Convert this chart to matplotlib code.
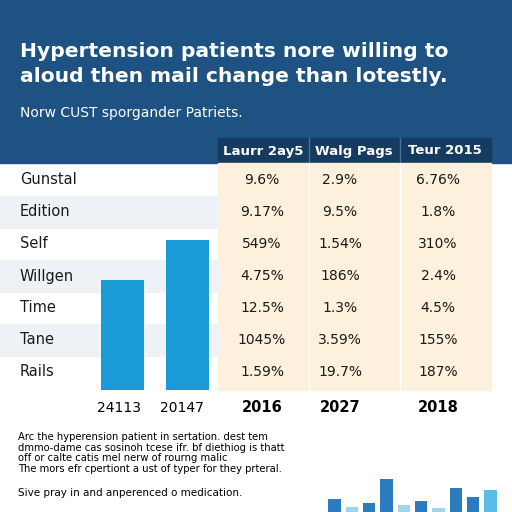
import matplotlib
matplotlib.use("Agg")
import matplotlib.pyplot as plt
from matplotlib.patches import Rectangle

title = "Hypertension patients nore willing to\naloud then mail change than lotestly."
subtitle = "Norw CUST sporgander Patriets."
col_heads = ["Laurr 2ay5", "Walg Pags", "Teur 2015"]
row_labels = ["Gunstal", "Edition", "Self", "Willgen", "Time", "Tane", "Rails"]
cells = [
    ["9.6%", "2.9%", "6.76%"],
    ["9.17%", "9.5%", "1.8%"],
    ["549%", "1.54%", "310%"],
    ["4.75%", "186%", "2.4%"],
    ["12.5%", "1.3%", "4.5%"],
    ["1045%", "3.59%", "155%"],
    ["1.59%", "19.7%", "187%"],
]
bar_labels = ["24113", "20147"]
bar_values = [110, 150]
year_labels = ["2016", "2027", "2018"]
note = ("Arc the hyperension patient in sertation. dest tem\n"
        "dmmo-dame cas sosinoh tcese ifr. bf diethiog is thatt\n"
        "off or calte catis mel nerw of rourng malic\n"
        "The mors efr cpertiont a ust of typer for they prteral.")
note2 = "Sive pray in and anperenced o medication."
mini_values = [12, 5, 8, 30, 6, 10, 4, 22, 14, 20]
mini_colors = ["#2b7bbf", "#9fd3ee", "#2b7bbf", "#2b7bbf", "#9fd3ee",
               "#2b7bbf", "#9fd3ee", "#2b7bbf", "#2b7bbf", "#5bbde8"]

NAVY = "#1d5282"
DARK = "#163b60"
fig = plt.figure(figsize=(5.12, 5.12), dpi=100)
ax = fig.add_axes([0, 0, 1, 1])
ax.set_xlim(0, 512)
ax.set_ylim(512, 0)
ax.axis("off")

# header band
ax.add_patch(Rectangle((0, 0), 512, 163, color=NAVY))
ax.text(20, 64, title, color="white", fontsize=14.6, va="center", ha="left",
        fontweight="bold", linespacing=1.35)
ax.text(20, 113, subtitle, color="white", fontsize=10, va="center")

# table
ax.add_patch(Rectangle((218, 138), 273, 25, color=DARK))
head_x = [263, 354, 445]
col_x = [262, 340, 438]
for x, h in zip(head_x, col_heads):
    ax.text(x, 151, h, color="white", fontsize=9.5, ha="center", va="center",
            fontweight="bold")
for x in [309, 400]:
    ax.plot([x, x], [138, 163], color="#4a6f95", lw=1)
ax.add_patch(Rectangle((218, 163), 273, 227, color="#fdf1dd"))
for i, (lab, row) in enumerate(zip(row_labels, cells)):
    y = 180 + i * 32
    if i % 2 == 1:
        ax.add_patch(Rectangle((0, y - 16), 218, 32, color="#eef1f5"))
    ax.text(20, y, lab, fontsize=10.5, va="center", color="#1a1a1a")
    for x, v in zip(col_x, row):
        ax.text(x, y, v, fontsize=10, va="center", ha="center", color="#1a1a1a")
for x in [309, 400]:
    ax.plot([x, x], [163, 390], color="white", lw=1)
for x, y in zip(col_x, year_labels):
    ax.text(x, 408, y, fontsize=10.5, ha="center", va="center", fontweight="bold")

# blue bars
bx = fig.add_axes([90 / 512, 1 - 390 / 512, 130 / 512, 150 / 512])
bx.bar([0, 1], bar_values, width=0.65, color="#1a9ad6")
bx.set_xlim(-0.5, 1.5)
bx.set_ylim(0, 150)
bx.axis("off")
for x, l in zip([119, 182], bar_labels):
    ax.text(x, 408, l, fontsize=10, ha="center", va="center")

ax.text(18, 453, note, fontsize=7.2, va="center", linespacing=1.1)
ax.text(18, 493, note2, fontsize=7.5, va="center")

mx = fig.add_axes([320 / 512, 0, 185 / 512, 35 / 512])
mx.bar(range(len(mini_values)), mini_values, color=mini_colors, width=0.7)
mx.set_ylim(0, 32)
mx.axis("off")

fig.savefig("out.png", dpi=100)
